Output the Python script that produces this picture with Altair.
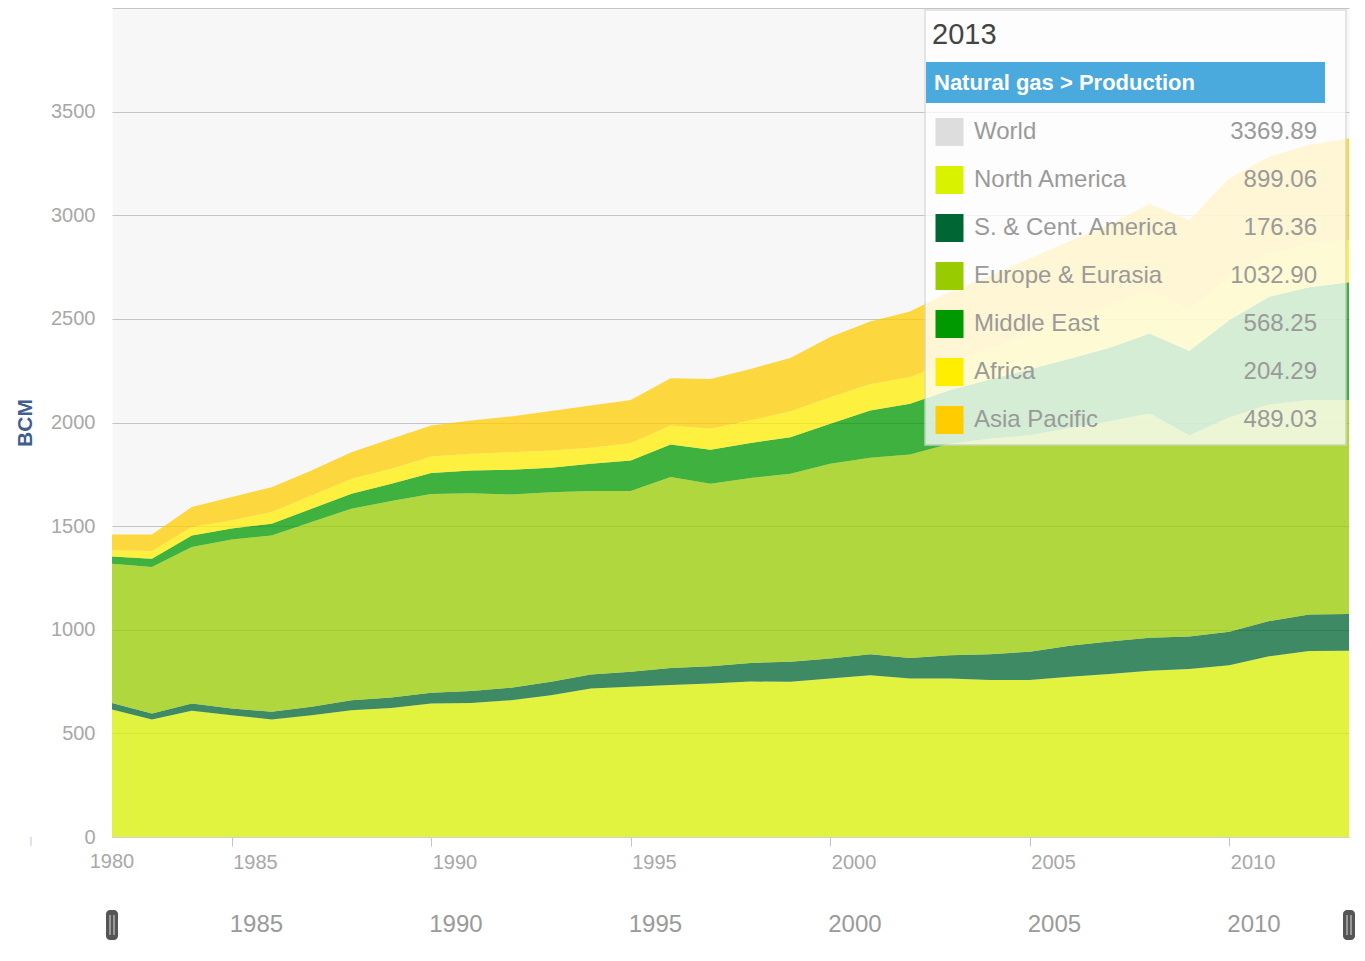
import altair as alt
import pandas as pd

# ---------------- data (BCM) ----------------
years = list(range(1982, 2014))
regions = ["North America", "S. & Cent. America", "Europe & Eurasia",
           "Middle East", "Africa", "Asia Pacific"]
region_colors = ["#d9f200", "#006633", "#99cc00", "#009900", "#ffee00", "#ffcc00"]

north_america = [615, 567, 609, 588, 567, 588, 612, 623, 644, 647, 660, 684, 716, 725, 733, 741,
                 750, 749, 765, 781, 765, 765, 757, 757, 773, 786, 802, 811, 829, 872, 898, 899.06]
s_cent_america = [32, 29, 35, 32, 37, 40, 48, 50, 52, 58, 60, 65, 68, 72, 83, 83,
                  90, 96, 96, 101, 99, 112, 125, 137, 150, 157, 160, 156, 161, 170, 175, 176.36]
europe_eurasia = [672, 707, 755, 815, 851, 892, 924, 948, 959, 954, 933, 915, 885, 872, 921, 880,
                  892, 908, 940, 948, 982, 1020, 1040, 1045, 1050, 1063, 1082, 970, 1035, 1045, 1035, 1032.90]
middle_east = [35, 40, 56, 53, 57, 64, 72, 83, 101, 110, 119, 118, 132, 148, 157, 164,
               169, 176, 193, 228, 244, 260, 285, 318, 335, 355, 385, 409, 470, 520, 545, 568.25]
africa = [29, 37, 41, 40, 56, 64, 73, 73, 80, 80, 85, 83, 77, 83, 92, 102,
          110, 125, 128, 128, 128, 140, 150, 170, 188, 203, 212, 201, 209, 205, 215, 204.29]
asia_pacific = [76, 79, 96, 112, 120, 121, 128, 144, 150, 161, 172, 190, 204, 209, 228, 240,
                247, 257, 290, 301, 317, 335, 350, 365, 380, 390, 415, 430, 475, 470, 472, 489.03]

series = [north_america, s_cent_america, europe_eurasia, middle_east, africa, asia_pacific]

x_ticks = [1985, 1990, 1995, 2000, 2005, 2010]
y_ticks = [0, 500, 1000, 1500, 2000, 2500, 3000, 3500, 4000]
first_label = "1980"
legend_year = "2013"
legend_header = "Natural gas > Production"

# ---------------- tables ----------------
rows = []
for k, (name, vals) in enumerate(zip(regions, series)):
    for yr, v in zip(years, vals):
        rows.append({"year": yr, "region": name, "value": v, "k": k})
df = pd.DataFrame(rows)

last = [s[-1] for s in series]
legend_names = ["World"] + regions
legend_vals = [f"{sum(last):.2f}"] + [f"{v:.2f}" for v in last]
legend_cols = ["#dddddd"] + region_colors
leg_df = pd.DataFrame({"name": legend_names, "val": legend_vals, "col": legend_cols,
                       "i": list(range(len(legend_names)))})

FONT = "Liberation Sans"
W, H = 1237, 829

# ---------------- chart ----------------
areas = alt.Chart(df).mark_area(opacity=0.75, interpolate="linear").encode(
    x=alt.X("year:Q", scale=alt.Scale(domain=[years[0], years[-1]], nice=False, zero=False),
            axis=alt.Axis(values=x_ticks, format="d", title=None, labelAlign="left",
                          labelOffset=1, labelFontSize=20, labelColor="#a8a8a8", labelFont=FONT,
                          tickColor="#b8c8dc", tickSize=9, domainColor="#c8d4e4",
                          labelPadding=6, grid=False, labelFlush=False)),
    y=alt.Y("value:Q", stack="zero", scale=alt.Scale(domain=[0, 4000], nice=False),
            axis=alt.Axis(values=y_ticks, title="BCM", format="d",
                          labelExpr="datum.value == 4000 ? '' : datum.label",
                          labelFontSize=20, labelColor="#a8a8a8", labelFont=FONT,
                          ticks=False, domain=False, labelPadding=17,
                          gridColor="#c4c4c4", gridWidth=1,
                          titleFont=FONT, titleFontSize=21, titleFontWeight="bold",
                          titleColor="#3e5f8f", titleAngle=-90, titleX=-87, titleY=H / 2,
                          titleAlign="center", titleBaseline="middle")),
    color=alt.Color("region:N", scale=alt.Scale(domain=regions, range=region_colors), legend=None),
    order=alt.Order("k:Q", sort="ascending"),
)

first_df = pd.DataFrame({"year": [years[0]], "t": [first_label]})
first_lbl = alt.Chart(first_df).mark_text(fontSize=20, color="#a8a8a8", font=FONT,
                                          baseline="middle", align="center").encode(
    x="year:Q", y=alt.value(854), text="t:N")
stray_tick = alt.Chart(first_df).mark_rule(color="#b8c8dc").encode(
    x=alt.value(-81), y=alt.value(H), y2=alt.value(H + 9))

slider_df = pd.DataFrame({"year": x_ticks, "t": [str(v) for v in x_ticks]})
slider_lbl = alt.Chart(slider_df).mark_text(fontSize=24, color="#9a9a9a", font=FONT,
                                            baseline="middle", align="left", dx=-2).encode(
    x="year:Q", y=alt.value(917), text="t:N")

handle_df = pd.DataFrame({"year": [years[0], years[-1]]})
handles = alt.Chart(handle_df).mark_tick(orient="vertical", size=30, thickness=12,
                                         cornerRadius=4, color="#555555", opacity=1).encode(
    x="year:Q", y=alt.value(917))
grip1 = alt.Chart(handle_df).mark_tick(orient="vertical", size=20, thickness=1.5,
                                       color="#b0b0b0", opacity=1, xOffset=-2).encode(
    x="year:Q", y=alt.value(917))
grip2 = alt.Chart(handle_df).mark_tick(orient="vertical", size=20, thickness=1.5,
                                       color="#b0b0b0", opacity=1, xOffset=2).encode(
    x="year:Q", y=alt.value(917))

one = pd.DataFrame({"a": [0]})
box = alt.Chart(one).mark_rect(fill="white", opacity=0.78, stroke="#d6d6d6", strokeWidth=1.5).encode(
    x=alt.value(813), x2=alt.value(1234), y=alt.value(2), y2=alt.value(437))
year_txt = alt.Chart(one).mark_text(text=legend_year, fontSize=29, color="#444444", font=FONT,
                                    align="left", baseline="middle").encode(
    x=alt.value(820), y=alt.value(27))
header = alt.Chart(one).mark_rect(fill="#4aa9dd").encode(
    x=alt.value(814), x2=alt.value(1213), y=alt.value(54), y2=alt.value(95))
header_txt = alt.Chart(one).mark_text(text=legend_header, fontSize=22, fontWeight="bold",
                                      color="white", font=FONT, align="left",
                                      baseline="middle").encode(
    x=alt.value(822), y=alt.value(75))

leg_base = alt.Chart(leg_df).transform_calculate(py="124 + 48 * datum.i")
swatch = leg_base.mark_square(size=784, opacity=1).encode(
    x=alt.value(837.5), y=alt.Y("py:Q", scale=None, axis=None),
    color=alt.Color("col:N", scale=None))
leg_names = leg_base.mark_text(fontSize=24, color="#9a9a9a", font=FONT, align="left",
                               baseline="middle").encode(
    x=alt.value(862), y=alt.Y("py:Q", scale=None, axis=None), text="name:N")
leg_vals = leg_base.mark_text(fontSize=24, color="#9a9a9a", font=FONT, align="right",
                              baseline="middle").encode(
    x=alt.value(1205), y=alt.Y("py:Q", scale=None, axis=None), text="val:N")

chart = alt.layer(
    areas, first_lbl, stray_tick, slider_lbl, handles, grip1, grip2,
    box, year_txt, header, header_txt, swatch, leg_names, leg_vals
).properties(
    width=W, height=H,
    autosize=alt.AutoSizeParams(type="none"),
    padding={"left": 104, "top": 0, "right": 8, "bottom": 110},
    background="white",
).configure_view(fill="#f7f7f7", stroke="transparent")

chart.save("out.html", embed_options={"renderer": "svg", "actions": False})
